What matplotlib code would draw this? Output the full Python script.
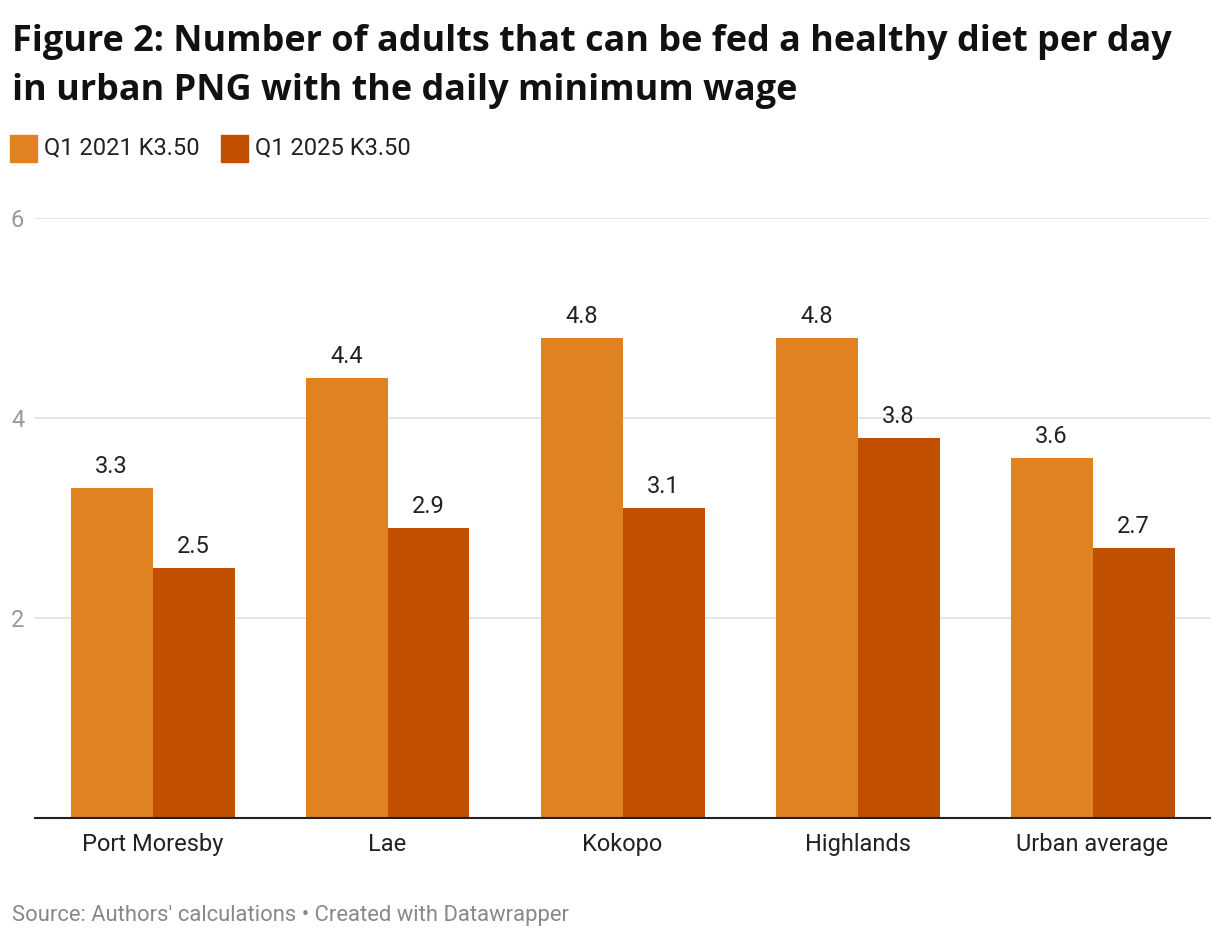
import matplotlib
matplotlib.use("Agg")
import matplotlib.pyplot as plt
from matplotlib.patches import Rectangle

categories = ["Port Moresby", "Lae", "Kokopo", "Highlands", "Urban average"]
series_names = ["Q1 2021 K3.50", "Q1 2025 K3.50"]
q1_2021 = [3.3, 4.4, 4.8, 4.8, 3.6]
q1_2025 = [2.5, 2.9, 3.1, 3.8, 2.7]
yticks = [2, 4, 6]
colors = ["#E08122", "#C05000"]

W, H = 1220, 940
fig = plt.figure(figsize=(W / 100, H / 100), dpi=100)
ax = fig.add_axes([35 / W, 122 / H, 1175 / W, 600 / H])

FS = 17
bw = 82 / 235
x = list(range(len(categories)))
for i, (vals, col) in enumerate(zip([q1_2021, q1_2025], colors)):
    pos = [xi + (i - 0.5) * bw for xi in x]
    ax.bar(pos, vals, width=bw, color=col, zorder=3)
    for p, v in zip(pos, vals):
        ax.annotate(f"{v:.1f}", (p, v), xytext=(0, 7), textcoords="offset points",
                    ha="center", va="bottom", fontsize=FS, family="Roboto",
                    color="#222222")

ax.set_xlim(-0.5, len(categories) - 0.5)
ax.set_ylim(0, 6)
ax.set_yticks(yticks)
ax.set_yticklabels([str(t) for t in yticks], fontsize=FS, family="Roboto", color="#999999")
ax.set_xticks(x)
ax.set_xticklabels(categories, fontsize=FS, family="Roboto", color="#222222")
ax.tick_params(axis="x", length=0, pad=11)
for lab in ax.get_yticklabels():
    lab.set_horizontalalignment("left")
    lab.set_x(-24 / 1175)
ax.tick_params(axis="y", length=0, pad=0)
ax.grid(axis="y", color="#e2e2e2", linewidth=1.2, zorder=0)
for s in ["top", "right", "left"]:
    ax.spines[s].set_visible(False)
ax.spines["bottom"].set_color("#222222")
ax.spines["bottom"].set_linewidth(1.5)
ax.spines["bottom"].set_zorder(4)

fig.text(12 / W, 1 - 51 / H, "Figure 2: Number of adults that can be fed a healthy diet per day",
         fontsize=25.9, fontweight="bold", family="Open Sans", color="#111111", va="baseline")
fig.text(12 / W, 1 - 100 / H, "in urban PNG with the daily minimum wage",
         fontsize=25.9, fontweight="bold", family="Open Sans", color="#111111", va="baseline")

# legend
lx = 10
for name, col in zip(series_names, colors):
    fig.patches.append(Rectangle((lx / W, 1 - 162 / H), 27 / W, 27 / H,
                                 transform=fig.transFigure, color=col))
    t = fig.text((lx + 34) / W, 1 - 148 / H, name, fontsize=FS, family="Roboto",
                 color="#222222", va="center")
    fig.canvas.draw()
    bb = t.get_window_extent()
    lx = bb.x1 + 21

fig.text(12 / W, 1 - 916 / H, "Source: Authors' calculations • Created with Datawrapper",
         fontsize=15.8, family="Roboto", color="#888888", va="center")

fig.savefig("out.png", dpi=100, facecolor="white")
